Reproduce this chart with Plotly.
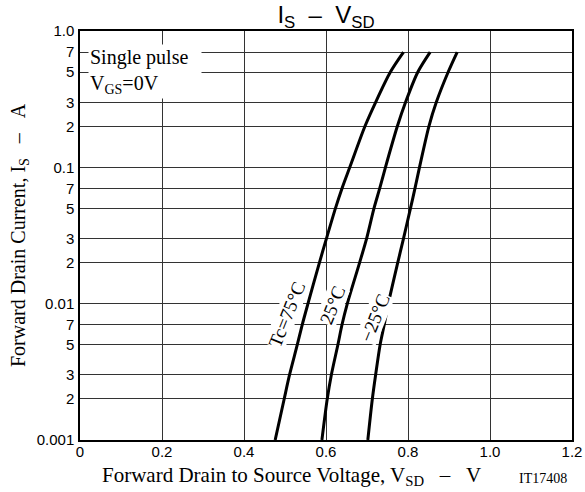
import plotly.graph_objects as go

# ---- data ----
current_a = [0.001, 0.002, 0.003, 0.005, 0.007, 0.01, 0.02, 0.03, 0.05, 0.07, 0.1, 0.2, 0.3, 0.5, 0.7]
vsd_75 = [0.476, 0.498, 0.511, 0.530, 0.542, 0.556, 0.584, 0.601, 0.623, 0.639, 0.658, 0.695, 0.721, 0.757, 0.789]
vsd_25 = [0.590, 0.603, 0.613, 0.629, 0.639, 0.652, 0.682, 0.699, 0.717, 0.731, 0.745, 0.774, 0.794, 0.824, 0.854]
vsd_m25 = [0.702, 0.713, 0.721, 0.732, 0.742, 0.752, 0.775, 0.789, 0.806, 0.817, 0.828, 0.851, 0.869, 0.898, 0.920]

series_names = ["Tc=75°C", "25°C", "−25°C"]

x_tickvals = [0, 0.2, 0.4, 0.6, 0.8, 1.0, 1.2]
x_ticktext = ["0", "0.2", "0.4", "0.6", "0.8", "1.0", "1.2"]
y_tickvals = [0.001, 0.002, 0.003, 0.005, 0.007, 0.01, 0.02, 0.03, 0.05, 0.07, 0.1, 0.2, 0.3, 0.5, 0.7, 1.0]
y_ticktext = ["0.001", "2", "3", "5", "7", "0.01", "2", "3", "5", "7", "0.1", "2", "3", "5", "7", "1.0"]

SERIF = "Liberation Serif, Times New Roman, serif"
SANS = "Liberation Sans, Arial, sans-serif"
NB = "\u00a0"

W, H = 585, 492
ML, MT, MR, MB = 80, 31, 13, 52
PW, PH = W - ML - MR, H - MT - MB


def px(xp):  # page pixel -> paper x
    return (xp - ML) / PW


def py(yp):  # page pixel -> paper y
    return (H - MB - yp) / PH


fig = go.Figure()
for name, v in zip(series_names, [vsd_75, vsd_25, vsd_m25]):
    fig.add_trace(go.Scatter(x=v, y=current_a, mode="lines", name=name,
                             line=dict(color="black", width=3, shape="spline", smoothing=0.8),
                             showlegend=False))

grid = "#333333"
fig.update_xaxes(range=[0, 1.2], tickvals=x_tickvals, ticktext=x_ticktext,
                 showgrid=True, gridcolor=grid, gridwidth=1,
                 showline=True, linecolor="black", linewidth=1.5, mirror=True,
                 zeroline=False, ticks="", ticklabelstandoff=-3,
                 tickfont=dict(family=SANS, size=15, color="black"))
fig.update_yaxes(type="log", range=[-3, 0], tickvals=y_tickvals, ticktext=y_ticktext,
                 showgrid=True, gridcolor=grid, gridwidth=1,
                 showline=True, linecolor="black", linewidth=1.5, mirror=True,
                 zeroline=False, ticks="", ticklabelstandoff=1,
                 tickfont=dict(family=SANS, size=15, color="black"))

annotations = [
    dict(text="Single pulse<br>V<sub>GS</sub>=0V", xref="paper", yref="paper",
         x=px(88), y=py(44), xanchor="left", yanchor="top",
         align="left", showarrow=False, bgcolor="white", width=110, borderpad=1,
         font=dict(family=SERIF, size=20, color="black")),
    dict(text=f"Forward Drain to Source Voltage, V<sub>SD</sub>{NB*3}–{NB*3}V",
         xref="paper", yref="paper", x=px(291), y=py(476),
         xanchor="center", yanchor="middle", showarrow=False,
         font=dict(family=SERIF, size=21, color="black")),
    dict(text="IT17408", xref="paper", yref="paper", x=px(543), y=py(478),
         xanchor="center", yanchor="middle", showarrow=False,
         font=dict(family=SERIF, size=14, color="black")),
    dict(text=f"Forward Drain Current, I<sub>S</sub>{NB*3}–{NB*3}A",
         xref="paper", yref="paper", x=px(19), y=py(235),
         xanchor="center", yanchor="middle", textangle=-90, showarrow=False,
         font=dict(family=SERIF, size=20, color="black")),
]
label_pos = [(0.505, -2.082), (0.617, -2.009), (0.720, -2.104)]
for name, (lx, ly) in zip(series_names, label_pos):
    annotations.append(dict(text=name, x=lx, y=ly, xref="x", yref="y", showarrow=False,
                            textangle=-68, bgcolor="white", borderpad=0,
                            font=dict(family=SERIF, size=19, color="black")))

fig.update_layout(
    width=W, height=H,
    margin=dict(l=ML, r=MR, t=MT, b=MB, autoexpand=False),
    paper_bgcolor="white", plot_bgcolor="white",
    title=dict(text=f"I<sub>S</sub>{NB*2}–{NB*2}V<sub>SD</sub>", x=0.5, xref="paper",
               y=1 - 15 / H, yanchor="middle", xanchor="center",
               font=dict(family=SANS, size=24, color="black")),
    annotations=annotations,
)

# remove the browser's default 8px page margin so the figure sits at the window origin
fig.write_html("out.html", config={"displayModeBar": False},
               post_script="document.body.style.margin='0';")
